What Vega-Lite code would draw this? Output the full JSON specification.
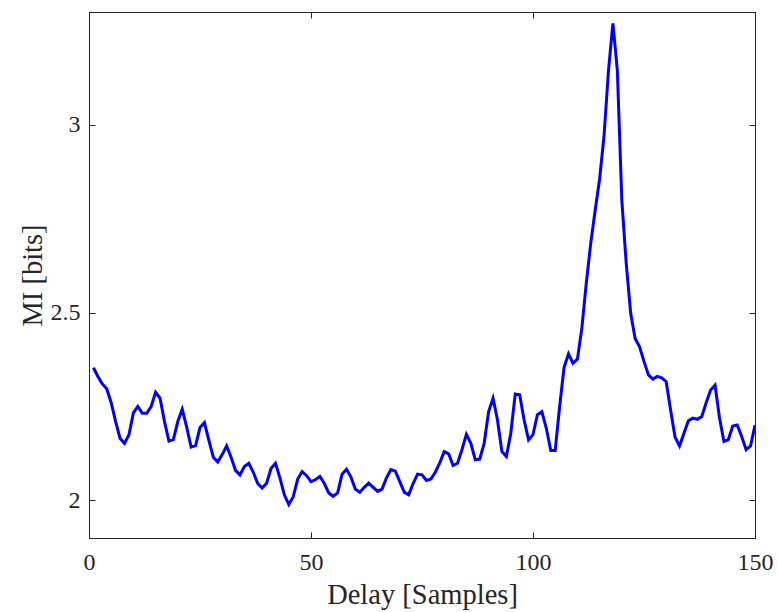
{
  "$schema": "https://vega.github.io/schema/vega-lite/v6.json",
  "width": 666,
  "height": 526,
  "autosize": "none",
  "padding": {"left": 89, "top": 12, "right": 23, "bottom": 74},
  "background": "white",
  "config": {
    "view": {"stroke": "#262626", "strokeWidth": 1},
    "font": "Liberation Serif",
    "axis": {
      "grid": false,
      "domainColor": "#262626",
      "tickColor": "#262626",
      "tickSize": -6,
      "labelFlush": false,
      "labelFont": "Liberation Serif",
      "titleFont": "Liberation Serif",
      "labelFontSize": 24,
      "titleFontSize": 28.5,
      "labelColor": "#262626",
      "titleColor": "#262626",
      "titleFontWeight": "normal"
    }
  },
  "data": {"values": [
    {"delay": 1, "mi": 2.353}, {"delay": 2, "mi": 2.33}, {"delay": 3, "mi": 2.31}, {"delay": 4, "mi": 2.297}, {"delay": 5, "mi": 2.26},
    {"delay": 6, "mi": 2.21}, {"delay": 7, "mi": 2.165}, {"delay": 8, "mi": 2.152}, {"delay": 9, "mi": 2.175}, {"delay": 10, "mi": 2.233},
    {"delay": 11, "mi": 2.25}, {"delay": 12, "mi": 2.232}, {"delay": 13, "mi": 2.232}, {"delay": 14, "mi": 2.25}, {"delay": 15, "mi": 2.288},
    {"delay": 16, "mi": 2.272}, {"delay": 17, "mi": 2.21}, {"delay": 18, "mi": 2.158}, {"delay": 19, "mi": 2.162}, {"delay": 20, "mi": 2.21},
    {"delay": 21, "mi": 2.243}, {"delay": 22, "mi": 2.195}, {"delay": 23, "mi": 2.142}, {"delay": 24, "mi": 2.146}, {"delay": 25, "mi": 2.194},
    {"delay": 26, "mi": 2.207}, {"delay": 27, "mi": 2.16}, {"delay": 28, "mi": 2.115}, {"delay": 29, "mi": 2.102}, {"delay": 30, "mi": 2.122},
    {"delay": 31, "mi": 2.145}, {"delay": 32, "mi": 2.115}, {"delay": 33, "mi": 2.08}, {"delay": 34, "mi": 2.068}, {"delay": 35, "mi": 2.09},
    {"delay": 36, "mi": 2.099}, {"delay": 37, "mi": 2.075}, {"delay": 38, "mi": 2.045}, {"delay": 39, "mi": 2.033}, {"delay": 40, "mi": 2.046},
    {"delay": 41, "mi": 2.085}, {"delay": 42, "mi": 2.099}, {"delay": 43, "mi": 2.06}, {"delay": 44, "mi": 2.015}, {"delay": 45, "mi": 1.989},
    {"delay": 46, "mi": 2.01}, {"delay": 47, "mi": 2.057}, {"delay": 48, "mi": 2.077}, {"delay": 49, "mi": 2.066}, {"delay": 50, "mi": 2.05},
    {"delay": 51, "mi": 2.055}, {"delay": 52, "mi": 2.064}, {"delay": 53, "mi": 2.045}, {"delay": 54, "mi": 2.02}, {"delay": 55, "mi": 2.011},
    {"delay": 56, "mi": 2.02}, {"delay": 57, "mi": 2.07}, {"delay": 58, "mi": 2.083}, {"delay": 59, "mi": 2.062}, {"delay": 60, "mi": 2.03},
    {"delay": 61, "mi": 2.022}, {"delay": 62, "mi": 2.035}, {"delay": 63, "mi": 2.046}, {"delay": 64, "mi": 2.035}, {"delay": 65, "mi": 2.024},
    {"delay": 66, "mi": 2.03}, {"delay": 67, "mi": 2.06}, {"delay": 68, "mi": 2.082}, {"delay": 69, "mi": 2.078}, {"delay": 70, "mi": 2.05},
    {"delay": 71, "mi": 2.022}, {"delay": 72, "mi": 2.015}, {"delay": 73, "mi": 2.045}, {"delay": 74, "mi": 2.07}, {"delay": 75, "mi": 2.068},
    {"delay": 76, "mi": 2.053}, {"delay": 77, "mi": 2.057}, {"delay": 78, "mi": 2.075}, {"delay": 79, "mi": 2.1}, {"delay": 80, "mi": 2.13},
    {"delay": 81, "mi": 2.124}, {"delay": 82, "mi": 2.093}, {"delay": 83, "mi": 2.099}, {"delay": 84, "mi": 2.135}, {"delay": 85, "mi": 2.176},
    {"delay": 86, "mi": 2.152}, {"delay": 87, "mi": 2.108}, {"delay": 88, "mi": 2.11}, {"delay": 89, "mi": 2.152}, {"delay": 90, "mi": 2.236},
    {"delay": 91, "mi": 2.272}, {"delay": 92, "mi": 2.214}, {"delay": 93, "mi": 2.13}, {"delay": 94, "mi": 2.117}, {"delay": 95, "mi": 2.179},
    {"delay": 96, "mi": 2.283}, {"delay": 97, "mi": 2.281}, {"delay": 98, "mi": 2.214}, {"delay": 99, "mi": 2.161}, {"delay": 100, "mi": 2.175},
    {"delay": 101, "mi": 2.228}, {"delay": 102, "mi": 2.236}, {"delay": 103, "mi": 2.192}, {"delay": 104, "mi": 2.133}, {"delay": 105, "mi": 2.133},
    {"delay": 106, "mi": 2.25}, {"delay": 107, "mi": 2.354}, {"delay": 108, "mi": 2.39}, {"delay": 109, "mi": 2.365}, {"delay": 110, "mi": 2.376},
    {"delay": 111, "mi": 2.458}, {"delay": 112, "mi": 2.578}, {"delay": 113, "mi": 2.684}, {"delay": 114, "mi": 2.772}, {"delay": 115, "mi": 2.855},
    {"delay": 116, "mi": 2.97}, {"delay": 117, "mi": 3.144}, {"delay": 118, "mi": 3.27}, {"delay": 119, "mi": 3.144}, {"delay": 120, "mi": 2.8},
    {"delay": 121, "mi": 2.63}, {"delay": 122, "mi": 2.498}, {"delay": 123, "mi": 2.431}, {"delay": 124, "mi": 2.409}, {"delay": 125, "mi": 2.37},
    {"delay": 126, "mi": 2.334}, {"delay": 127, "mi": 2.323}, {"delay": 128, "mi": 2.33}, {"delay": 129, "mi": 2.326}, {"delay": 130, "mi": 2.316},
    {"delay": 131, "mi": 2.24}, {"delay": 132, "mi": 2.168}, {"delay": 133, "mi": 2.145}, {"delay": 134, "mi": 2.179}, {"delay": 135, "mi": 2.212},
    {"delay": 136, "mi": 2.219}, {"delay": 137, "mi": 2.216}, {"delay": 138, "mi": 2.223}, {"delay": 139, "mi": 2.26}, {"delay": 140, "mi": 2.294},
    {"delay": 141, "mi": 2.307}, {"delay": 142, "mi": 2.22}, {"delay": 143, "mi": 2.157}, {"delay": 144, "mi": 2.162}, {"delay": 145, "mi": 2.198},
    {"delay": 146, "mi": 2.201}, {"delay": 147, "mi": 2.17}, {"delay": 148, "mi": 2.135}, {"delay": 149, "mi": 2.145}, {"delay": 150, "mi": 2.2}
  ]},
  "layer": [
    {
      "mark": {"type": "line", "color": "#0000FF", "strokeWidth": 3, "clip": true},
      "encoding": {
        "x": {"field": "delay", "type": "quantitative",
              "scale": {"domain": [0, 150], "nice": false, "zero": false},
              "axis": {"values": [0, 50, 100, 150], "title": "Delay [Samples]", "labelPadding": 18, "titlePadding": 6}},
        "y": {"field": "mi", "type": "quantitative",
              "scale": {"domain": [1.9, 3.3], "nice": false, "zero": false},
              "axis": {"values": [2, 2.5, 3], "format": "~g", "title": "MI [bits]", "labelPadding": 15, "titlePadding": 3}}
      }
    },
    {
      "mark": {"type": "line", "opacity": 0},
      "encoding": {
        "x": {"field": "delay", "type": "quantitative",
              "axis": {"orient": "top", "values": [0, 50, 100, 150], "labels": false, "title": null}},
        "y": {"field": "mi", "type": "quantitative",
              "axis": {"orient": "right", "values": [2, 2.5, 3], "labels": false, "title": null}}
      }
    }
  ],
  "resolve": {"axis": {"x": "independent", "y": "independent"}}
}
